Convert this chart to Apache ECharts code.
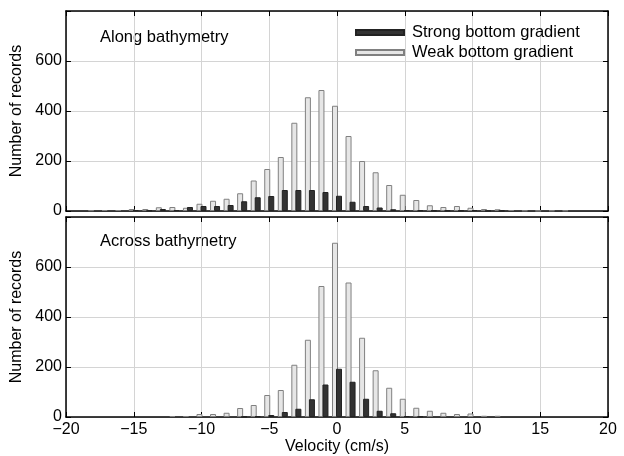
<!DOCTYPE html>
<html>
<head>
<meta charset="utf-8">
<script src="https://cdn.jsdelivr.net/npm/echarts@6/dist/echarts.min.js"></script>
<style>
    html, body { margin: 0; padding: 0; background: #fff; }
    .echarts_1 { width: 624px; height: 456px; }
</style>
</head>
<body>
<div class="echarts_1"></div>
<script>
// 速度分箱 (cm/s)
var velocity = [-18, -17, -16, -15, -14, -13, -12, -11, -10, -9, -8, -7, -6, -5, -4, -3, -2, -1,
    0, 1, 2, 3, 4, 5, 6, 7, 8, 9, 10, 11, 12, 13, 14, 15, 16, 17];

// Along bathymetry
var alongWeak = [3, 4, 4, 8, 8, 15, 16, 13, 29, 41, 49, 71, 122, 168, 216, 353, 455, 484,
    421, 300, 200, 155, 104, 65, 44, 23, 16, 20, 13, 8, 7, 4, 2, 1, 2, 2];
var alongStrong = [0, 0, 0, 4, 2, 8, 4, 16, 20, 20, 24, 39, 55, 60, 84, 84, 84, 76,
    61, 37, 20, 14, 7, 4, 3, 2, 2, 2, 4, 1, 1, 0, 0, 0, 0, 0];

// Across bathymetry
var acrossWeak = [0, 0, 0, 0, 0, 0, 4, 4, 12, 12, 17, 36, 48, 88, 108, 209, 309, 524,
    697, 538, 317, 187, 117, 73, 37, 25, 17, 12, 14, 5, 5, 0, 0, 0, 0, 0];
var acrossStrong = [0, 0, 0, 0, 0, 0, 0, 0, 0, 0, 0, 1, 3, 8, 20, 33, 71, 130,
    193, 141, 73, 25, 15, 4, 2, 0, 0, 0, 0, 0, 0, 0, 0, 0, 0, 0];

var xTicks = [-20, -15, -10, -5, 0, 5, 10, 15, 20];
var yTicks = [0, 200, 400, 600, 800];

var FONT = 'Liberation Sans';

function pairs(vals) {
    var out = [];
    velocity.forEach(function (v, i) {
        if (vals[i] > 0) out.push([v, vals[i]]);
    });
    return out;
}

function minus(v) {
    return v < 0 ? '\u2212' + Math.abs(v) : String(v);
}

function xAxisCfg(grid, showLabel, pos) {
    var main = pos === 'bottom';
    return {
        type: 'value', gridIndex: grid, position: pos,
        min: xTicks[0], max: xTicks[xTicks.length - 1], interval: 5,
        axisLine: { show: true, onZero: false, lineStyle: { color: '#000', width: 1.5 } },
        axisTick: { show: true, inside: true, length: 5, lineStyle: { color: '#000' } },
        axisLabel: {
            show: showLabel, margin: 5, color: '#000', fontFamily: FONT, fontSize: 16,
            formatter: minus
        },
        splitLine: { show: main, lineStyle: { color: '#d4d4d4', width: 1 } },
        name: showLabel ? 'Velocity (cm/s)' : '',
        nameLocation: 'middle', nameGap: 19,
        nameTextStyle: { color: '#000', fontFamily: FONT, fontSize: 16 }
    };
}

function yAxisCfg(grid, pos) {
    var main = pos === 'left';
    return {
        type: 'value', gridIndex: grid, position: pos,
        min: yTicks[0], max: yTicks[yTicks.length - 1], interval: 200,
        axisLine: { show: true, onZero: false, lineStyle: { color: '#000', width: 1.5 } },
        axisTick: { show: true, inside: true, length: 5, lineStyle: { color: '#000' } },
        axisLabel: {
            show: main, margin: 4, color: '#000', fontFamily: FONT, fontSize: 16,
            formatter: function (v) { return v === 800 ? '' : String(v); }
        },
        splitLine: { show: main, lineStyle: { color: '#d4d4d4', width: 1 } },
        name: main ? 'Number of records' : '',
        nameLocation: 'middle', nameGap: 41,
        nameTextStyle: { color: '#000', fontFamily: FONT, fontSize: 16 }
    };
}

var weakStyle = { color: '#e6e6e6', borderColor: '#808080', borderWidth: 1 };
var strongStyle = { color: '#333333', borderColor: '#222222', borderWidth: 1 };

function barSeries(name, xi, yi, vals, style) {
    return {
        name: name, type: 'bar', xAxisIndex: xi, yAxisIndex: yi,
        barWidth: 6, barGap: '-33%',
        itemStyle: style,
        data: pairs(vals),
        silent: true
    };
}

var echart_1 = echarts.init(document.querySelector('.echarts_1'), null, { renderer: 'canvas' });

var option1 = {
    animation: false,
    textStyle: { fontFamily: FONT },
    grid: [
        { left: 66, top: 11, width: 542, height: 200 },
        { left: 66, top: 217, width: 542, height: 200 }
    ],
    xAxis: [
        xAxisCfg(0, false, 'bottom'),
        xAxisCfg(1, true, 'bottom'),
        xAxisCfg(0, false, 'top'),
        xAxisCfg(1, false, 'top')
    ],
    yAxis: [
        yAxisCfg(0, 'left'),
        yAxisCfg(1, 'left'),
        yAxisCfg(0, 'right'),
        yAxisCfg(1, 'right')
    ],
    legend: {
        orient: 'vertical', left: 350, top: 19,
        itemWidth: 48, itemHeight: 5, itemGap: 3,
        icon: 'rect',
        data: ['Strong bottom gradient', 'Weak bottom gradient'],
        textStyle: { color: '#000', fontFamily: FONT, fontSize: 16.5, lineHeight: 16, padding: [0, 0, 0, 3] }
    },
    graphic: [
        { type: 'text', left: 100, top: 29, style: { text: 'Along bathymetry', fill: '#000', font: '16.5px "Liberation Sans"' } },
        { type: 'text', left: 100, top: 233, style: { text: 'Across bathymetry', fill: '#000', font: '16.5px "Liberation Sans"' } }
    ],
    series: [
        barSeries('Weak bottom gradient', 0, 0, alongWeak, weakStyle),
        barSeries('Strong bottom gradient', 0, 0, alongStrong, strongStyle),
        barSeries('Weak bottom gradient', 1, 1, acrossWeak, weakStyle),
        barSeries('Strong bottom gradient', 1, 1, acrossStrong, strongStyle)
    ]
};

echart_1.setOption(option1);
</script>
</body>
</html>
